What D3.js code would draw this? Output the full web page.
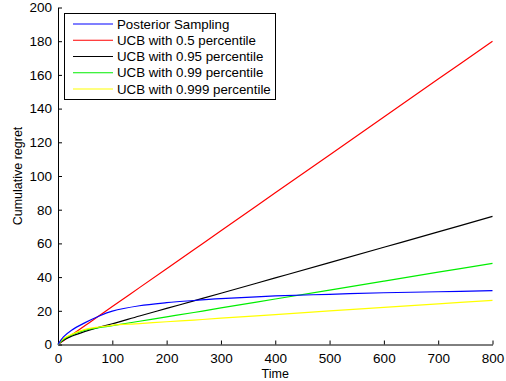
<!DOCTYPE html>
<html>
<head>
<meta charset="utf-8">
<script src="https://cdn.jsdelivr.net/npm/d3@7"></script>
<style>
  body { margin: 0; background: #fff; }
  svg text { font-family: "Liberation Sans", Arial, sans-serif; fill: #000; }
</style>
</head>
<body>
<svg id="chart"></svg>
<script>
// data
const seriesNames = ["Posterior Sampling", "UCB with 0.5 percentile", "UCB with 0.95 percentile", "UCB with 0.99 percentile", "UCB with 0.999 percentile"];
const seriesColors = ["#0000ff", "#ff0000", "#000000", "#00ee00", "#ffff00"];

const timeSteps = [0, 10, 25, 50, 75, 100, 150, 200, 250, 300, 400, 500, 600, 700, 800];
const posterior = [0, 4.5, 8.5, 13, 16.8, 19.8, 23, 24.8, 26.1, 27.2, 28.8, 29.8, 30.7, 31.3, 32];
const ucb50     = [0, 2.25, 5.6, 11.25, 16.9, 22.5, 33.75, 45, 56.25, 67.5, 90, 112.5, 135, 157.5, 180];
const ucb95     = [0, 2.6, 4.9, 7.8, 10.2, 12.3, 16.9, 21.4, 25.9, 30.4, 39.5, 48.6, 57.7, 66.8, 76];
const ucb99     = [0, 3, 5.6, 8.5, 10, 11.2, 13.8, 16.4, 19, 21.7, 27, 32.3, 37.6, 42.9, 48.2];
const ucb999    = [0, 3.5, 6, 9, 10.4, 11.4, 12.4, 13.5, 14.5, 15.6, 17.7, 19.9, 22, 24.1, 26.2];
const allSeries = [posterior, ucb50, ucb95, ucb99, ucb999];

const xTicks = [0, 100, 200, 300, 400, 500, 600, 700, 800];
const yTicks = [0, 20, 40, 60, 80, 100, 120, 140, 160, 180, 200];

const width = 506, height = 381;
const svg = d3.select("#chart").attr("width", width).attr("height", height);

const x = d3.scaleLinear().domain([0, 800]).range([58, 492.5]);
const y = d3.scaleLinear().domain([0, 200]).range([344.5, 7.5]);

// axes (ticks point inward, no box)
const xAxis = svg.append("g")
  .attr("transform", `translate(0,${y(0)})`)
  .call(d3.axisBottom(x).tickValues(xTicks).tickSizeInner(-4).tickSizeOuter(0).tickPadding(9));
const yAxis = svg.append("g")
  .attr("transform", `translate(${x(0)},0)`)
  .call(d3.axisLeft(y).tickValues(yTicks).tickSizeInner(-4).tickSizeOuter(0).tickPadding(6));

[xAxis, yAxis].forEach(g => {
  g.select(".domain").attr("stroke", "#000").attr("stroke-width", 1);
  g.selectAll(".tick line").attr("stroke", "#000");
  g.selectAll("text").attr("font-size", 13.5).attr("fill", "#000")
    .attr("font-family", "'Liberation Sans', Arial, sans-serif");
});

// lines
const line = d3.line()
  .x((d, i) => x(timeSteps[i]))
  .y(d => y(d))
  .curve(d3.curveCatmullRom.alpha(0.5));

const lineOrder = [1, 2, 3, 4, 0];
svg.append("g").selectAll("path")
  .data(lineOrder)
  .join("path")
  .attr("d", i => line(allSeries[i]))
  .attr("fill", "none")
  .attr("stroke", i => seriesColors[i])
  .attr("stroke-width", 1.2);

// axis labels
svg.append("text")
  .attr("x", x(400)).attr("y", 378)
  .attr("text-anchor", "middle").attr("font-size", 12.5)
  .text("Time");
svg.append("text")
  .attr("transform", `translate(22,${y(100)}) rotate(-90)`)
  .attr("text-anchor", "middle").attr("font-size", 12.5)
  .text("Cumulative regret");

// legend
const legend = svg.append("g");
legend.append("rect")
  .attr("x", 64.5).attr("y", 13.5).attr("width", 211).attr("height", 86)
  .attr("fill", "#fff").attr("stroke", "#000").attr("stroke-width", 1);
const rowY = d3.scalePoint().domain(d3.range(seriesNames.length)).range([24, 89]);
const rows = legend.selectAll("g.row")
  .data(seriesNames)
  .join("g")
  .attr("class", "row")
  .attr("transform", (d, i) => `translate(0,${rowY(i)})`);
rows.append("line")
  .attr("x1", 73).attr("x2", 113)
  .attr("stroke", (d, i) => seriesColors[i])
  .attr("stroke-width", 1.2);
rows.append("text")
  .attr("x", 117).attr("y", 4.6)
  .attr("font-size", 13.3)
  .text(d => d);
</script>
</body>
</html>
